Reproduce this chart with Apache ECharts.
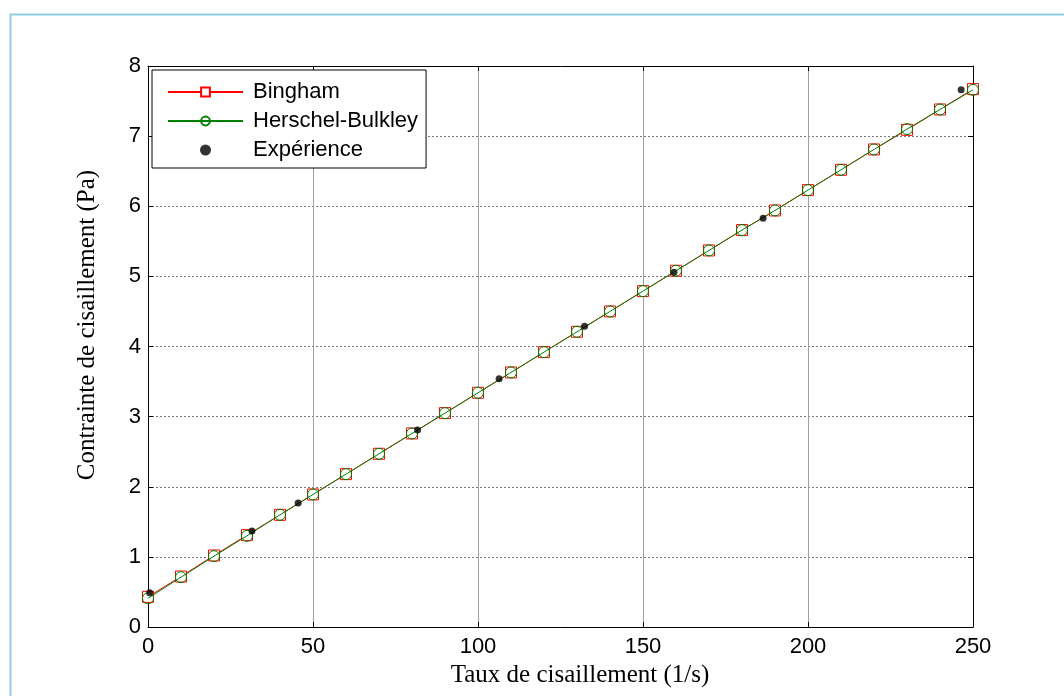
<!DOCTYPE html>
<html>
<head>
<meta charset="utf-8">
<script src="https://cdn.jsdelivr.net/npm/echarts@6/dist/echarts.min.js"></script>
<style>
html,body{margin:0;padding:0;background:#fff;}
#c{width:1064px;height:696px;}
</style>
</head>
<body>
<div id="c"></div>
<script>
// Shear rate (1/s) for model curves
var xModel = [0,10,20,30,40,50,60,70,80,90,100,110,120,130,140,150,160,170,180,190,200,210,220,230,240,250];
// Bingham model stress (Pa)
var bingham = [0.43,0.72,1.02,1.31,1.60,1.89,2.18,2.47,2.76,3.05,3.34,3.63,3.92,4.21,4.50,4.79,5.08,5.37,5.66,5.94,6.23,6.52,6.81,7.09,7.38,7.67];
// Herschel-Bulkley model stress (Pa)
var herschel = [0.41,0.71,1.01,1.30,1.60,1.89,2.18,2.47,2.76,3.05,3.34,3.63,3.92,4.21,4.50,4.79,5.08,5.37,5.66,5.94,6.23,6.52,6.81,7.10,7.38,7.66];
// Experimental points
var expX = [0.5,31.5,45.5,81.7,106.4,132.3,159.4,186.4,246.4];
var expY = [0.49,1.37,1.77,2.81,3.54,4.29,5.06,5.83,7.66];
// Axis labels
var xTitle = 'Taux de cisaillement (1/s)';
var yTitle = 'Contrainte de cisaillement (Pa)';
var names = ['Bingham','Herschel-Bulkley','Expérience'];

function pairs(xs, ys){ return xs.map(function(x,i){return [x, ys[i]];}); }

var sans = '"Liberation Sans", Arial, sans-serif';
var serif = '"Liberation Serif", "Times New Roman", serif';

var chart = echarts.init(document.getElementById('c'), null, {renderer:'canvas'});
var axisCommon = {
  axisLine:{show:true, onZero:false, lineStyle:{color:'#000', width:1}},
  axisTick:{show:true, inside:true, length:5, lineStyle:{color:'#000'}}
};
chart.setOption({
  animation:false,
  backgroundColor:'#fff',
  graphic:[{type:'rect', left:8, top:12, shape:{width:1100, height:700}, style:{fill:'none', stroke:'#92CDDC', lineWidth:2}, silent:true}],
  grid:{left:148, top:66, width:825, height:561, containLabel:false},
  xAxis:[
    Object.assign({type:'value', position:'bottom', min:0, max:250, interval:50,
      axisLabel:{color:'#000', fontSize:22, fontFamily:sans, margin:9},
      splitLine:{show:true, lineStyle:{color:'#a0a0a0', width:1, type:'solid'}},
      name:xTitle, nameLocation:'middle', nameGap:33,
      nameTextStyle:{color:'#000', fontSize:25, fontFamily:serif, padding:[0,0,0,39]}}, axisCommon),
    Object.assign({type:'value', position:'top', min:0, max:250, interval:50,
      axisLabel:{show:false}, splitLine:{show:false}}, axisCommon)
  ],
  yAxis:[
    Object.assign({type:'value', position:'left', min:0, max:8, interval:1,
      axisLabel:{color:'#000', fontSize:22, fontFamily:sans, margin:7},
      splitLine:{show:true, lineStyle:{color:'#777', width:1, type:[2,2]}},
      name:yTitle, nameLocation:'middle', nameGap:48, nameRotate:90,
      nameTextStyle:{color:'#000', fontSize:25, fontFamily:serif, padding:[0,0,0,43]}}, axisCommon),
    Object.assign({type:'value', position:'right', min:0, max:8, interval:1,
      axisLabel:{show:false}, splitLine:{show:false}}, axisCommon)
  ],
  legend:{
    orient:'vertical', left:152, top:70,
    data:names,
    backgroundColor:'#fff', borderColor:'#000', borderWidth:1, borderRadius:0,
    padding:[11,8,7,15], itemWidth:75, itemHeight:11, itemGap:7,
    textStyle:{color:'#000', fontSize:22, fontFamily:sans, padding:[0,0,0,5]}
  },
  series:[
    {name:names[0], type:'line', data:pairs(xModel,bingham), symbol:'rect', symbolSize:11,
     lineStyle:{color:'#ff0000', width:1}, itemStyle:{color:'#fff', borderColor:'#ff0000', borderWidth:1},
     color:'#ff0000', z:2},
    {name:names[1], type:'line', data:pairs(xModel,herschel), symbol:'circle', symbolSize:11,
     lineStyle:{color:'#008000', width:1}, itemStyle:{color:'rgba(255,255,255,0)', borderColor:'#008000', borderWidth:1},
     color:'#008000', z:3},
    {name:names[2], type:'scatter', data:pairs(expX,expY), symbol:'circle', symbolSize:7,
     itemStyle:{color:'#000'}, z:4}
  ]
});
</script>
</body>
</html>
